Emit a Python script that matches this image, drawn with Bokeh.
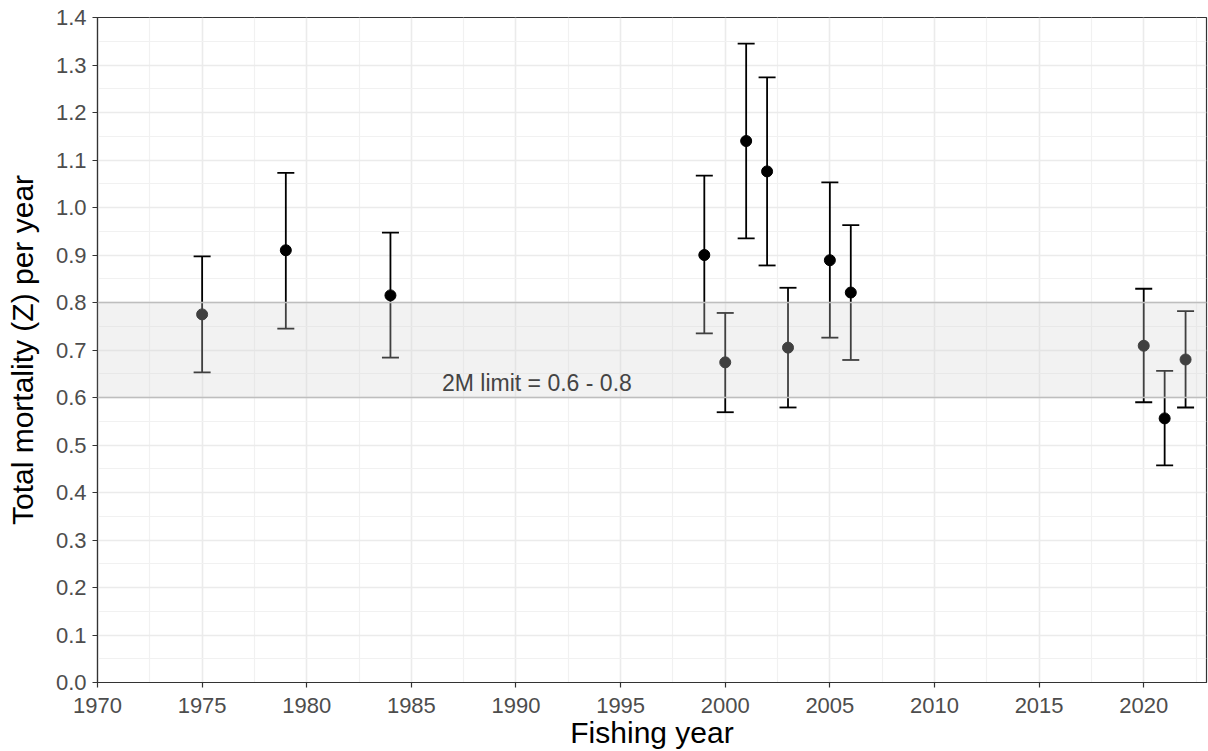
from bokeh.plotting import figure
from bokeh.models import (ColumnDataSource, Whisker, TeeHead, BoxAnnotation, Span,
                          Label, FixedTicker, Range1d, CustomJSTickFormatter)
from bokeh.embed import file_html
from bokeh.resources import INLINE

# ---- data ----
years = [1975, 1979, 1984, 1999, 2000, 2001, 2002, 2003, 2005, 2006, 2020, 2021, 2022]
z_est = [0.775, 0.910, 0.815, 0.900, 0.674, 1.140, 1.076, 0.705, 0.889, 0.821, 0.709, 0.556, 0.680]
z_low = [0.653, 0.745, 0.684, 0.735, 0.569, 0.935, 0.878, 0.579, 0.726, 0.679, 0.590, 0.457, 0.579]
z_up = [0.897, 1.073, 0.947, 1.067, 0.778, 1.345, 1.274, 0.831, 1.053, 0.963, 0.829, 0.656, 0.782]
band_low, band_high = 0.6, 0.8
band_text = "2M limit = 0.6 - 0.8"
band_text_x, band_text_y = 1991.0, 0.63
x_ticks = list(range(1970, 2021, 5))
y_ticks = [round(i * 0.1, 1) for i in range(0, 15)]
x_title = "Fishing year"
y_title = "Total mortality (Z) per year"

FONT = "Liberation Sans"

src = ColumnDataSource(dict(year=years, z=z_est, low=z_low, up=z_up))

p = figure(width=1208, height=751, output_backend="svg", toolbar_location=None,
           x_range=Range1d(1970, 2023), y_range=Range1d(0, 1.4),
           min_border_left=97, min_border_right=2, min_border_top=17, min_border_bottom=67)

p.background_fill_color = "white"
p.border_fill_color = "white"
p.outline_line_color = "#333333"
p.outline_line_width = 1.2

# grid
p.xgrid.ticker = FixedTicker(ticks=x_ticks, minor_ticks=[1972.5 + 5 * i for i in range(11)])
p.ygrid.ticker = FixedTicker(ticks=y_ticks, minor_ticks=[0.05 + 0.1 * i for i in range(14)])
for g in (p.xgrid, p.ygrid):
    g.grid_line_color = "#ebebeb"
    g.grid_line_width = 1.6
    g.minor_grid_line_color = "#f1f1f1"
    g.minor_grid_line_width = 1.2

# axes
p.xaxis.ticker = FixedTicker(ticks=x_ticks)
p.yaxis.ticker = FixedTicker(ticks=y_ticks)
p.yaxis.formatter = CustomJSTickFormatter(code="return tick.toFixed(1);")
for ax in (p.xaxis[0], p.yaxis[0]):
    ax.axis_line_color = "#333333"
    ax.axis_line_width = 1.2
    ax.major_tick_line_color = "#333333"
    ax.major_tick_line_width = 1.2
    ax.major_tick_out = 5
    ax.major_tick_in = 0
    ax.minor_tick_out = 0
    ax.minor_tick_in = 0
    ax.major_label_text_font = FONT
    ax.major_label_text_font_size = "22px"
    ax.major_label_text_color = "#4d4d4d"
    ax.axis_label_text_font = FONT
    ax.axis_label_text_font_size = "30px"
    ax.axis_label_text_color = "black"
    ax.axis_label_text_font_style = "normal"

p.xaxis.axis_label = x_title
p.yaxis.axis_label = y_title
p.xaxis.major_label_standoff = 10
p.xaxis.axis_label_standoff = 0
p.yaxis.major_label_standoff = 6
p.yaxis.axis_label_standoff = 14

# error bars
wh = Whisker(source=src, base="year", lower="low", upper="up",
             line_color="black", line_width=1.8,
             upper_head=TeeHead(size=17, line_color="black", line_width=1.8),
             lower_head=TeeHead(size=17, line_color="black", line_width=1.8))
p.add_layout(wh)

# points
p.scatter("year", "z", source=src, size=11, color="black")

# band overlay (drawn on top, semi-transparent)
box = BoxAnnotation(bottom=band_low, top=band_high, fill_color="#d3d3d3", fill_alpha=0.3,
                    line_color=None, level="overlay")
p.add_layout(box)
for yv in (band_low, band_high):
    p.add_layout(Span(location=yv, dimension="width", line_color="#bebebe", line_width=1.6,
                      level="overlay"))

p.add_layout(Label(x=band_text_x, y=band_text_y, text=band_text, text_font=FONT,
                   text_font_size="23px", text_color="#444444", text_align="center",
                   text_baseline="middle", level="overlay"))

open("out.html", "w").write(file_html(p, INLINE))
